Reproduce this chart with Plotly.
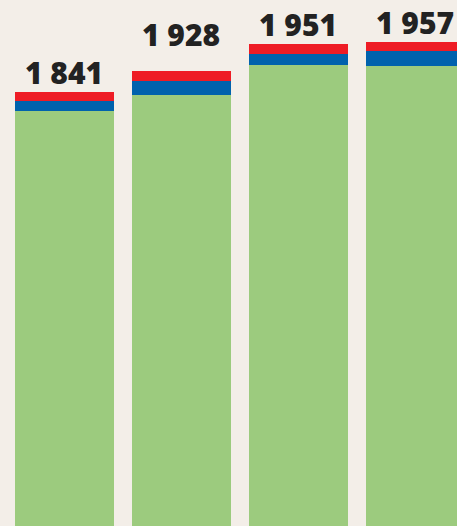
import plotly.graph_objects as go

categories = ["1", "2", "3", "4"]
green_vals = [1795, 1833, 1902, 1900]
blue_vals = [25, 33, 26, 34]
red_vals = [21, 23, 23, 23]
total_vals = [1841, 1928, 1951, 1957]
total_labels = ["1 841", "1 928", "1 951", "1 957"]

BG = "#f3eee8"
GREEN = "#9ccb7e"
BLUE = "#0062ad"
RED = "#ee1c25"

fig = go.Figure()
for vals, col in [(green_vals, GREEN), (blue_vals, BLUE), (red_vals, RED)]:
    fig.add_trace(go.Bar(x=categories, y=vals, marker=dict(color=col, line=dict(width=0)),
                         width=0.845, hoverinfo="skip"))

for i, (t, lab) in enumerate(zip(total_vals, total_labels)):
    fig.add_annotation(x=i, y=t, text=lab, showarrow=False, yanchor="bottom",
                       yshift=-3,
                       font=dict(family="Open Sans", size=30, color="#222222", weight=800))

fig.update_layout(
    barmode="stack",
    width=457, height=526, autosize=False,
    margin=dict(l=0, r=0, t=0, b=0),
    paper_bgcolor=BG, plot_bgcolor=BG,
    showlegend=False,
    xaxis=dict(visible=False, type="category", range=[-0.5474, 3.355]),
    yaxis=dict(visible=False, range=[833, 2053.4]),
)

fig.write_html("out.html", config={"displayModeBar": False},
               post_script="document.body.style.margin='0';document.body.style.background='#f3eee8';")
